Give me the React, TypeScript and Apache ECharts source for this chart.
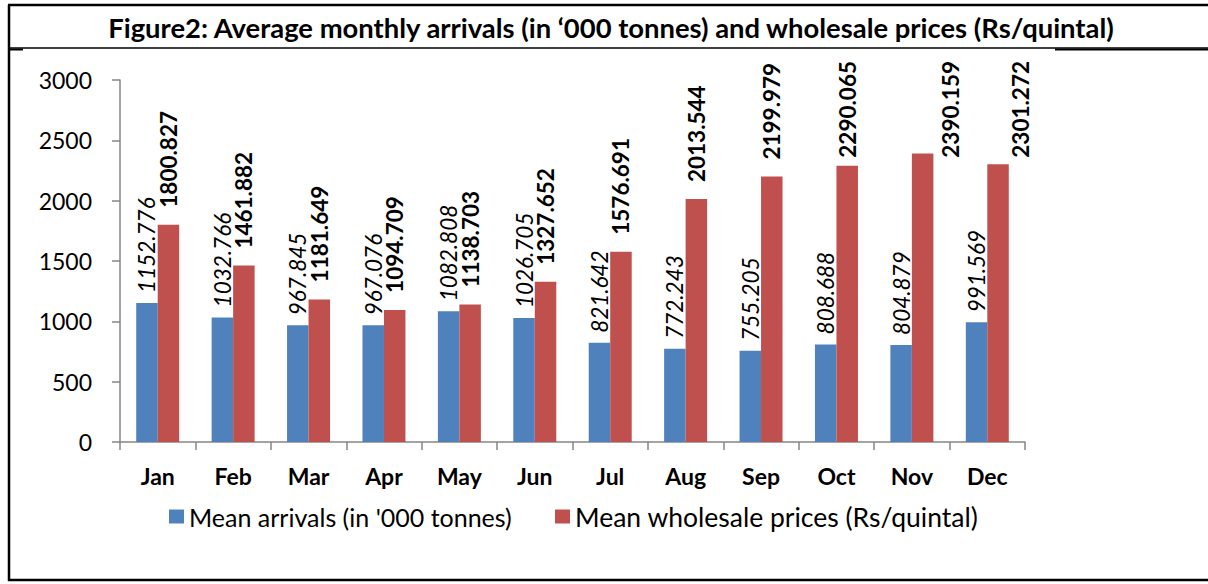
import React, { useEffect, useRef } from "react";
import * as echarts from "echarts";

const months = ["Jan", "Feb", "Mar", "Apr", "May", "Jun", "Jul", "Aug", "Sep", "Oct", "Nov", "Dec"];
const arrivals = [1152.776, 1032.766, 967.845, 967.076, 1082.808, 1026.705, 821.642, 772.243, 755.205, 808.688, 804.879, 991.569];
const prices = [1800.827, 1461.882, 1181.649, 1094.709, 1138.703, 1327.652, 1576.691, 2013.544, 2199.979, 2290.065, 2390.159, 2301.272];
const seriesNames = ["Mean arrivals (in '000 tonnes)", "Mean wholesale prices (Rs/quintal)"];
const titleText = "Figure2: Average monthly arrivals (in \u2018000 tonnes) and wholesale prices (Rs/quintal)";
// horizontal nudges of the price labels that were moved aside in the original
const priceLabelShift = [0, 0, 0, 0, 0, 0, 0, 0, 0, 0, 28, 22];

const FONT = "Lato, 'Open Sans', sans-serif";
const LABEL_SIZE = 22.5;
const LABEL_TOP_LIMIT = 61;

function measure(text: string, font: string): number {
  const c = document.createElement("canvas").getContext("2d");
  if (!c) return text.length * 12;
  c.font = font;
  return c.measureText(text).width;
}

export default function App() {
  const ref = useRef<HTMLDivElement>(null);
  useEffect(() => {
    document.body.style.margin = "0";
    const chart = echarts.init(ref.current!, null, { renderer: "svg" });
    const fmt = (v: number) => v.toFixed(3);
    const makeLabel = (italic: boolean, bold: boolean, distance: number) => ({
      show: true,
      position: "top",
      rotate: 90,
      align: "left",
      verticalAlign: "middle",
      distance,
      fontFamily: FONT,
      fontSize: LABEL_SIZE,
      fontStyle: italic ? "italic" : "normal",
      fontWeight: bold ? "bold" : "normal",
      color: "#000",
      formatter: (p: any) => fmt(Number(p.value)),
    });
    chart.setOption({
      animation: false,
      backgroundColor: "#ffffff",
      textStyle: { fontFamily: FONT, color: "#000" },
      graphic: [
        { type: "line", shape: { x1: 8, y1: 5, x2: 1208, y2: 5 }, style: { stroke: "#000", lineWidth: 2.5 } },
        { type: "line", shape: { x1: 9, y1: 5, x2: 9, y2: 581 }, style: { stroke: "#000", lineWidth: 2.5 } },
        { type: "line", shape: { x1: 8, y1: 48, x2: 1208, y2: 48 }, style: { stroke: "#000", lineWidth: 1.5 } },
        { type: "line", shape: { x1: 8, y1: 49.5, x2: 23, y2: 49.5 }, style: { stroke: "#000", lineWidth: 2 } },
        { type: "line", shape: { x1: 1055, y1: 49.5, x2: 1208, y2: 49.5 }, style: { stroke: "#000", lineWidth: 2 } },
        { type: "line", shape: { x1: 8, y1: 580, x2: 1208, y2: 580 }, style: { stroke: "#000", lineWidth: 2.5 } },
        {
          type: "text",
          x: 611,
          y: 27,
          style: {
            text: titleText,
            fontFamily: FONT,
            fontSize: 27.4,
            fontWeight: "bold",
            fill: "#000",
            textAlign: "center",
            textVerticalAlign: "middle",
          },
        },
      ],
      legend: [
        {
          left: 169,
          top: 504,
          padding: 0,
          icon: "rect",
          itemWidth: 15,
          itemHeight: 14,
          itemGap: 6,
          textStyle: { fontFamily: FONT, fontSize: 25, color: "#000" },
          data: [seriesNames[0]],
        },
        {
          left: 555,
          top: 503,
          padding: 0,
          icon: "rect",
          itemWidth: 15,
          itemHeight: 14,
          textStyle: { fontFamily: FONT, fontSize: 26.5, color: "#000" },
          data: [seriesNames[1]],
        },
      ],
      grid: { left: 120, right: 183, top: 80, bottom: 142 },
      xAxis: {
        type: "category",
        data: months,
        axisLine: { lineStyle: { color: "#868686", width: 1.5 } },
        axisTick: { show: true, length: 8, lineStyle: { color: "#868686", width: 1.5 }, alignWithLabel: false },
        axisLabel: { fontFamily: FONT, fontSize: 23, fontWeight: "bold", color: "#000", margin: 22 },
      },
      yAxis: {
        type: "value",
        min: 0,
        max: 3000,
        interval: 500,
        splitLine: { show: false },
        axisLine: { show: true, lineStyle: { color: "#868686", width: 1.5 } },
        axisTick: { show: true, inside: false, length: 8, lineStyle: { color: "#868686", width: 1.5 } },
        axisLabel: {
          fontFamily: FONT,
          fontSize: 23,
          color: "#000",
          margin: 28,
          formatter: (v: number) => String(v),
        },
      },
      series: [
        {
          name: seriesNames[0],
          type: "bar",
          data: arrivals,
          barGap: "0%",
          barCategoryGap: "43%",
          itemStyle: { color: "#4F81BD" },
          label: makeLabel(true, false, 10),
        },
        {
          name: seriesNames[1],
          type: "bar",
          data: prices,
          barGap: "0%",
          barCategoryGap: "43%",
          itemStyle: { color: "#C0504D" },
          label: makeLabel(false, true, 17),
        },
      ],
    });
    // Keep labels inside the chart area (like the original), shrinking the gap when needed.
    const fit = (values: number[], font: string, dist: number, shifts?: number[]) =>
      values.map((v, i) => {
        const top = chart.convertToPixel({ gridIndex: 0 }, [0, v])[1];
        const w = measure(fmt(v), font);
        const dx = shifts ? shifts[i] : 0;
        let d = Math.min(dist, top - LABEL_TOP_LIMIT - w);
        if (!dx) d = Math.max(2, d);
        // label is rotated 90deg, so its local y axis points to the right on screen
        return { value: v, label: { distance: d, offset: [0, dx] } };
      });
    chart.setOption({
      series: [
        { data: fit(arrivals, `italic normal ${LABEL_SIZE}px Lato`, 10) },
        { data: fit(prices, `normal bold ${LABEL_SIZE}px Lato`, 17, priceLabelShift) },
      ],
    });
    return () => chart.dispose();
  }, []);
  return <div ref={ref} style={{ width: 1208, height: 584 }} />;
}
